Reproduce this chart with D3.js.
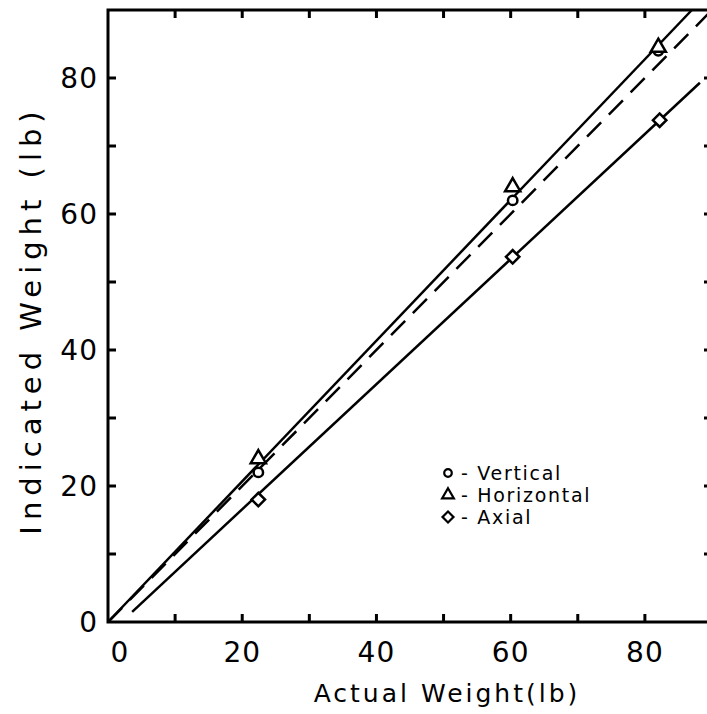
<!DOCTYPE html>
<html>
<head>
<meta charset="utf-8">
<script src="https://cdn.jsdelivr.net/npm/d3@7"></script>
<style>
  body { margin: 0; background: #fff; }
  svg { display: block; }
  text { font-family: "DejaVu Sans", sans-serif; fill: #000; }
</style>
</head>
<body>
<div id="chart"></div>
<script>
// measured points (actual, indicated)
var vertical = [[22.4, 22], [60.3, 62], [82, 84]];
var horizontal = [[22.4, 24], [60.3, 64], [82, 84.5]];
var axial = [[22.4, 18], [60.3, 53.7], [82.2, 73.8]];
// fitted lines, end points
var upperFit = [[0, 0], [87, 90]];
var idealLine = [[0, 0], [90, 90]];
var axialFit = [[3.6, 1.5], [88.2, 79.3]];
var xTickLabels = [0, 20, 40, 60, 80];
var yTickLabels = [0, 20, 40, 60, 80];
var legendItems = ["Vertical", "Horizontal", "Axial"];

var w = 707, h = 714;
var margin = {left: 108, top: 10, right: -5, bottom: 92};

var svg = d3.select("#chart").append("svg")
  .attr("width", w)
  .attr("height", h);

var x = d3.scaleLinear().domain([0, 90]).range([margin.left, w - margin.right]);
var y = d3.scaleLinear().domain([0, 90]).range([h - margin.bottom, margin.top]);

var ticks = d3.range(10, 90, 10);

// frame
svg.append("rect")
  .attr("x", x(0)).attr("y", y(90))
  .attr("width", x(90) - x(0)).attr("height", y(0) - y(90))
  .attr("fill", "none").attr("stroke", "#000").attr("stroke-width", 3);

// inward ticks on all four sides
var tl = 8;
var tk = svg.append("g").attr("stroke", "#000").attr("stroke-width", 3);
ticks.forEach(function (t) {
  tk.append("line").attr("x1", x(t)).attr("x2", x(t)).attr("y1", y(0)).attr("y2", y(0) - tl);
  tk.append("line").attr("x1", x(t)).attr("x2", x(t)).attr("y1", y(90)).attr("y2", y(90) + tl);
  tk.append("line").attr("y1", y(t)).attr("y2", y(t)).attr("x1", x(0)).attr("x2", x(0) + tl);
  tk.append("line").attr("y1", y(t)).attr("y2", y(t)).attr("x1", x(90)).attr("x2", x(90) - tl);
});

// tick labels
svg.append("g").selectAll("text")
  .data(xTickLabels).enter().append("text")
  .attr("x", function (d) { return x(d) + (d === 0 ? 12 : 0); })
  .attr("y", y(0) + 40)
  .attr("text-anchor", "middle")
  .attr("font-size", 28)
  .attr("letter-spacing", 1)
  .text(function (d) { return d; });

svg.append("g").selectAll("text")
  .data(yTickLabels).enter().append("text")
  .attr("x", x(0) - 10)
  .attr("y", function (d) { return y(d) + 10; })
  .attr("text-anchor", "end")
  .attr("font-size", 28)
  .attr("letter-spacing", 1)
  .text(function (d) { return d; });

// axis titles
svg.append("text")
  .attr("x", 447).attr("y", 702)
  .attr("text-anchor", "middle")
  .attr("font-size", 25)
  .attr("letter-spacing", 3)
  .text("Actual Weight(lb)");

svg.append("text")
  .attr("transform", "translate(41,320) rotate(-90)")
  .attr("text-anchor", "middle")
  .attr("font-size", 29)
  .attr("letter-spacing", 6)
  .text("Indicated Weight (lb)");

// lines
var line = d3.line().x(function (d) { return x(d[0]); }).y(function (d) { return y(d[1]); });
var lines = svg.append("g").attr("fill", "none").attr("stroke", "#000").attr("stroke-width", 2.5);
lines.append("path").attr("d", line(upperFit));
lines.append("path").attr("d", line(axialFit));
lines.append("path").attr("d", line(idealLine)).attr("stroke-dasharray", "20,11");

// markers
var sym = {
  Vertical: d3.symbol().type(d3.symbolCircle).size(70),
  Horizontal: d3.symbol().type(d3.symbolTriangle).size(100),
  Axial: d3.symbol().type(d3.symbolSquare).size(90)
};
var series = [
  {name: "Vertical", pts: vertical},
  {name: "Horizontal", pts: horizontal},
  {name: "Axial", pts: axial}
];
var marks = svg.append("g").attr("fill", "#fff").attr("stroke", "#000").attr("stroke-width", 2.5);
series.forEach(function (s) {
  marks.selectAll(null).data(s.pts).enter().append("path")
    .attr("d", sym[s.name]())
    .attr("transform", function (d) {
      var rot = s.name === "Axial" ? " rotate(45)" : "";
      return "translate(" + x(d[0]) + "," + y(d[1]) + ")" + rot;
    });
});

// legend
var lg = svg.append("g").attr("transform", "translate(448,473)");
legendItems.forEach(function (name, i) {
  var gy = i * 22;
  lg.append("path")
    .attr("d", d3.symbol().type(sym[name].type()).size(name === "Vertical" ? 45 : 60)())
    .attr("transform", "translate(0," + gy + ")" + (name === "Axial" ? " rotate(45)" : ""))
    .attr("fill", "none").attr("stroke", "#000").attr("stroke-width", 2.2);
  lg.append("text")
    .attr("x", 13).attr("y", gy + 7)
    .attr("font-size", 19)
    .attr("letter-spacing", 1.7)
    .text("- " + name);
});
</script>
</body>
</html>
